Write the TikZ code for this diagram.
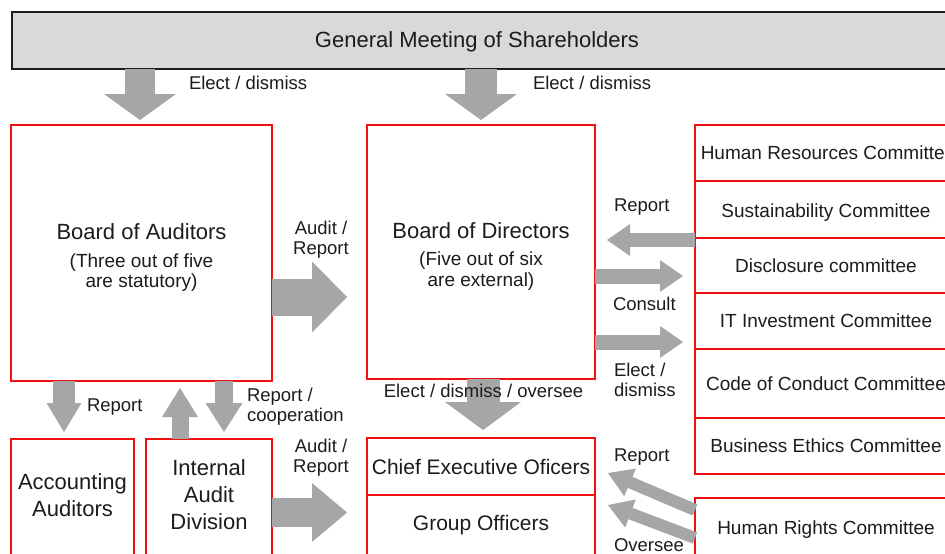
\documentclass[tikz,border=0pt]{standalone}
\usepackage{fontspec}
\setmainfont{Liberation Sans}
\usetikzlibrary{arrows.meta}

\definecolor{arrowgray}{RGB}{166,166,166}
\definecolor{boxred}{RGB}{240,16,16}
\definecolor{gmgray}{RGB}{217,217,217}
\definecolor{inkgray}{RGB}{28,28,28}

\newcommand{\bigtxt}{\fontsize{22}{27}\selectfont}
\newcommand{\subtxt}{\fontsize{19}{21}\selectfont}
\newcommand{\comtxt}{\fontsize{19}{21}\selectfont}

\begin{document}
\begin{tikzpicture}[x=1pt,y=-1pt,
  every node/.style={text=inkgray, inner sep=0pt, outer sep=0pt},
  redbox/.style={draw=boxred, line width=1.4pt, fill=white},
  combox/.style={redbox, minimum width=262pt, font=\comtxt},
  lbl/.style={font=\fontsize{18.5}{20}\selectfont, align=left},
  blockarrow/.style n args={3}{draw=arrowgray, line width=#1,
    -{Triangle[width=#2,length=#3,line width=0pt]}}]
\path[use as bounding box] (0,0) rectangle (945,554);
\clip (0,0) rectangle (945,554);
\fill[white] (0,0) rectangle (945,554);

% top box
\node[draw=inkgray, line width=2pt, fill=gmgray, minimum width=990pt,
  minimum height=57pt, anchor=north west] (gm) at (12,12) {};
\node[font=\bigtxt] (gmtext) at (477,42) {General Meeting of Shareholders};

% boards (strut on first line pushes the text a bit lower)
\node[redbox, minimum width=261pt, minimum height=256pt, align=center] (boa) at (141.5,253)
  {\bigtxt\rule{0pt}{25pt}Board of Auditors\\[13pt] \subtxt (Three out of five\\[2pt] \subtxt are statutory)};
\node[redbox, minimum width=228pt, minimum height=254pt, align=center] (bod) at (481,252)
  {\bigtxt\rule{0pt}{25pt}Board of Directors\\[12pt] \subtxt (Five out of six\\[2pt] \subtxt are external)};

% committees, stacked
\node[combox, minimum height=56pt, anchor=north west] (hrcom) at (695,125) {\hspace*{4pt}Human Resources Committee};
\node[combox, minimum height=57pt, anchor=north] (sus) at (hrcom.south) {\rule{0pt}{20pt}Sustainability Committee};
\node[combox, minimum height=55pt, anchor=north] (dis) at (sus.south) {Disclosure committee};
\node[combox, minimum height=56pt, anchor=north] (itc) at (dis.south) {IT Investment Committee};
\node[combox, minimum height=69pt, anchor=north] (coc) at (itc.south) {Code of Conduct Committee};
\node[combox, minimum height=56pt, anchor=north] (bec) at (coc.south) {Business Ethics Committee};
\node[combox, minimum height=64pt, anchor=north west] (hrc) at (695,498) {Human Rights Committee};

% lower row
\node[redbox, minimum width=123pt, minimum height=130pt, anchor=north west] (acc) at (11,439) {};
\node[font=\bigtxt, align=center] (acctext) at (72.5,495.5) {Accounting\\Auditors};
\node[redbox, minimum width=126pt, minimum height=130pt, anchor=north west] (iad) at (146,439) {};
\node[font=\bigtxt, align=center] (iadtext) at (209,495) {Internal\\Audit\\Division};
\node[redbox, minimum width=228pt, minimum height=57pt, anchor=north west,
  font=\fontsize{21}{24}\selectfont] (ceo) at (367,438) {Chief Executive Oficers};
\node[redbox, minimum width=228pt, minimum height=60pt, anchor=north,
  font=\fontsize{21}{24}\selectfont] (grp) at (ceo.south) {Group Officers};

% block arrows
\draw[blockarrow={30pt}{72pt}{26pt}] (gm.south -| 140,0) -- ([yshift=5pt]boa.north -| 140,0);
\draw[blockarrow={32pt}{72pt}{26pt}] (gm.south -| 481,0) -- ([yshift=5pt]bod.north);
\draw[blockarrow={37pt}{71pt}{35pt}] (boa.east |- 0,297) -- ([xshift=-20pt]bod.west |- 0,297);
\draw[blockarrow={14pt}{32pt}{23pt}] (dis.north west |- 0,240) -- ([xshift=12pt]bod.east |- 0,240);
\draw[blockarrow={15pt}{32pt}{23pt}] (bod.east |- 0,276) -- ([xshift=-12pt]dis.west |- 0,276);
\draw[blockarrow={15pt}{32pt}{23pt}] (bod.east |- 0,342) -- ([xshift=-12pt]itc.west |- 0,342);
\draw[blockarrow={33pt}{76pt}{28pt}] (bod.south -| 483,0) -- ([yshift=8pt]ceo.north -| 483,0);
\draw[blockarrow={22pt}{35pt}{29pt}] (boa.south -| 64,0) -- ([yshift=7pt]acc.north -| 64,0);
\draw[blockarrow={17pt}{36pt}{29pt}] (iad.north -| 180,0) -- ([yshift=-7pt]boa.south -| 180,0);
\draw[blockarrow={18pt}{37pt}{29pt}] (boa.south -| 224,0) -- ([yshift=7pt]iad.north -| 224,0);
\draw[blockarrow={29pt}{59pt}{35pt}] (iad.east |- 0,512.5) -- ([xshift=-20pt]ceo.west |- 0,512.5);
\draw[blockarrow={12pt}{30pt}{24pt}] (hrc.west |- 0,510) -- ([xshift=13pt]ceo.east |- 0,473);
\draw[blockarrow={12pt}{30pt}{24pt}] (hrc.west |- 0,538) -- ([xshift=13pt]grp.east |- 0,505);

% arrow labels
\node[lbl, anchor=west] (l1) at (189,83) {Elect / dismiss};
\node[lbl, anchor=west] (l2) at (533,83) {Elect / dismiss};
\node[lbl, align=center] (l3) at (321,240) {Audit /\\ Report};
\node[lbl, anchor=west] (l4) at (614,207) {Report};
\node[lbl, anchor=west] (l5) at (613,304) {Consult};
\node[lbl, anchor=west] (l6) at (614,380) {Elect /\\dismiss};
\node[lbl] (l7) at (483.5,391) {Elect / dismiss / oversee};
\node[lbl, anchor=west] (l8) at (87,407) {Report};
\node[lbl, anchor=west] (l9) at (247,407) {Report /\\cooperation};
\node[lbl, align=center] (l10) at (321,458) {Audit /\\ Report};
\node[lbl, anchor=west] (l11) at (614,457) {Report};
\node[lbl, anchor=west] (l12) at (614,545) {Oversee};
\end{tikzpicture}
\end{document}
